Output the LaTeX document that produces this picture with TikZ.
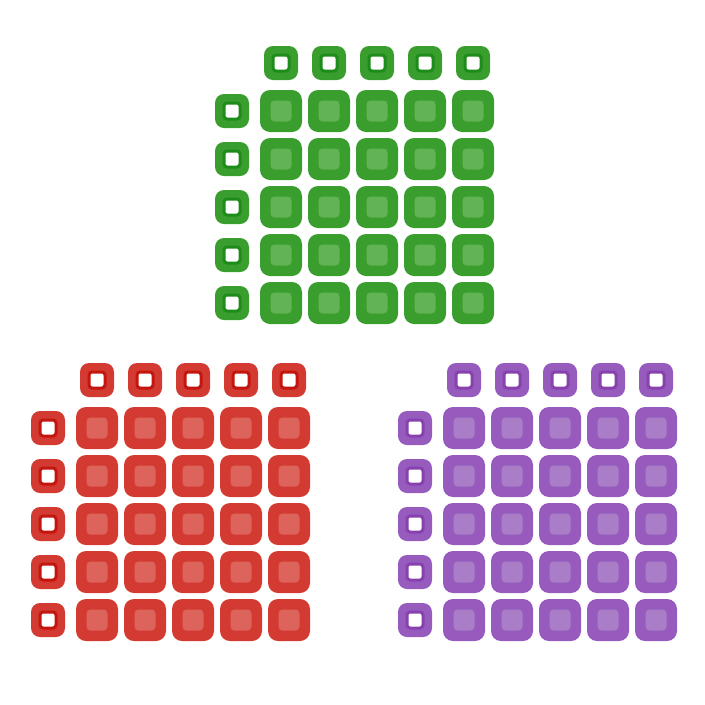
\documentclass[tikz,border=0pt]{standalone}
\definecolor{gOut}{HTML}{3A9E2E}
\definecolor{gIn}{HTML}{62B355}
\definecolor{gRing}{HTML}{1E8C1A}
\definecolor{rOut}{HTML}{D33A31}
\definecolor{rIn}{HTML}{DD645C}
\definecolor{rRing}{HTML}{C4160F}
\definecolor{pOut}{HTML}{965BBC}
\definecolor{pIn}{HTML}{AA7DC8}
\definecolor{pRing}{HTML}{8842B0}
\tikzset{
  bigsq/.style={rectangle, rounded corners=10pt, minimum size=42pt, inner sep=0pt, fill=#1},
  biginner/.style={rectangle, rounded corners=4pt, minimum size=21pt, inner sep=0pt, fill=#1},
  smallsq/.style={rectangle, rounded corners=9pt, minimum size=34pt, inner sep=0pt, fill=#1},
  hole/.style={rectangle, rounded corners=3pt, minimum size=16pt, inner sep=0pt, fill=white, draw=#1, line width=3pt},
}
\newcommand\seatgroup[6]{%
  % #1 name, #2 x0, #3 y0, #4 outer, #5 inner, #6 ring
  \foreach \i in {0,...,4}{
    \node[smallsq=#4] (#1-t\i) at ({#2+48*\i}, {#3-48}) {};
    \node[hole=#6] (#1-th\i) at (#1-t\i) {};
    \node[smallsq=#4] (#1-l\i) at ({#2-49}, {#3+48*\i}) {};
    \node[hole=#6] (#1-lh\i) at (#1-l\i) {};
    \foreach \j in {0,...,4}{
      \node[bigsq=#4] (#1-b\i\j) at ({#2+48*\i}, {#3+48*\j}) {};
      \node[biginner=#5] (#1-bi\i\j) at (#1-b\i\j) {};
    }
  }%
}
\begin{document}
\begin{tikzpicture}[x=1pt,y=-1pt]
  \useasboundingbox (0,0) rectangle (705,705);
  \seatgroup{g}{281}{111}{gOut}{gIn}{gRing}
  \seatgroup{r}{97}{428}{rOut}{rIn}{rRing}
  \seatgroup{p}{464}{428}{pOut}{pIn}{pRing}
\end{tikzpicture}
\end{document}
